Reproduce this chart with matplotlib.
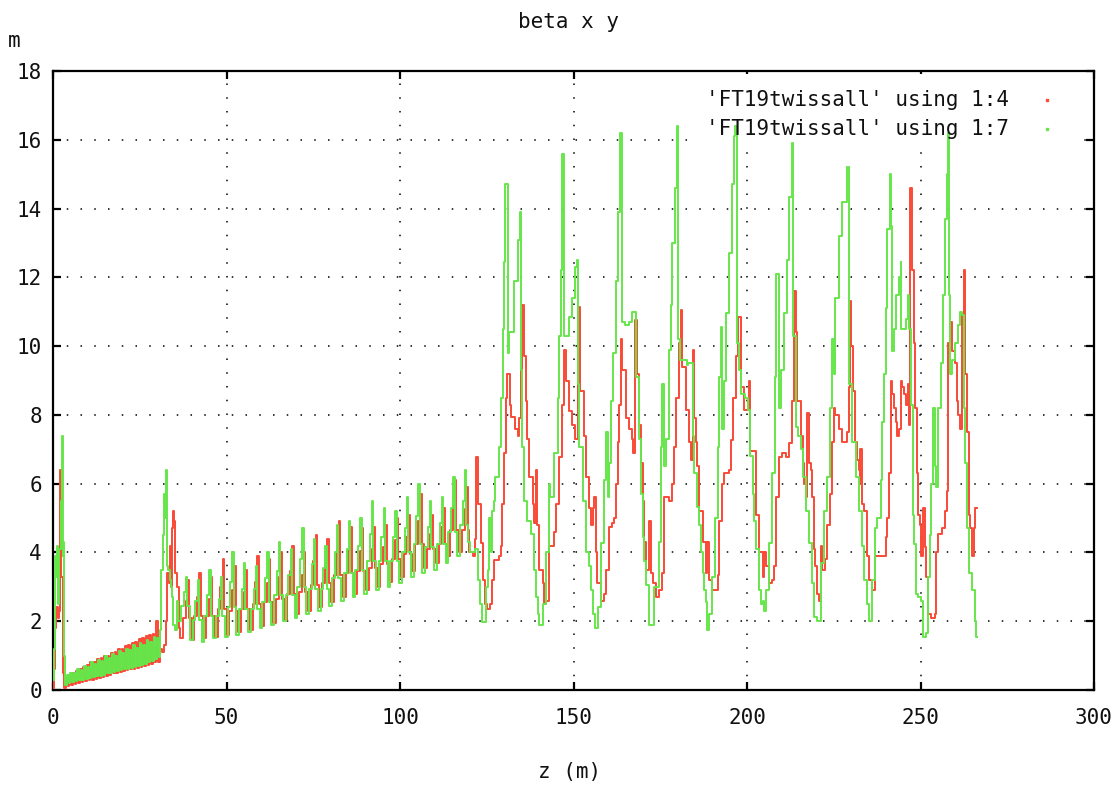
import matplotlib
matplotlib.use("Agg")
import matplotlib.pyplot as plt
from matplotlib.patches import Rectangle

# ---------------- data (z [m], beta [m]) ----------------
red_start = [(0.0, 0.05), (0.4, 0.6), (0.7, 1.8), (1.0, 2.4), (1.4, 2.1), (1.7, 2.3),
             (1.9, 4.0), (2.05, 6.4), (2.35, 3.3), (2.8, 2.0), (3.0, 0.5), (3.3, 0.05)]
green_start = [(0.0, 0.3), (0.3, 1.2), (0.6, 3.9), (0.9, 3.3), (1.2, 4.2), (1.5, 2.5),
               (1.8, 4.1), (2.3, 5.5), (2.55, 7.4), (2.8, 3.9), (3.0, 4.3), (3.2, 1.0)]

green_low = [(3.5, 0.15), (4.0, 0.45), (4.5, 0.2), (5.0, 0.5), (5.5, 0.22), (6.0, 0.5),
             (6.5, 0.25), (7.0, 0.6), (7.5, 0.28), (8.0, 0.58), (8.5, 0.3), (9.0, 0.7),
             (9.5, 0.33), (10.0, 0.68), (10.5, 0.36), (11.0, 0.8), (11.5, 0.38), (12.0, 0.76),
             (12.5, 0.4), (13.0, 0.88), (13.5, 0.42), (14.0, 0.85), (14.5, 0.45), (15.0, 0.98),
             (15.5, 0.48), (16.0, 0.92), (16.5, 0.5), (17.0, 1.05), (17.5, 0.52), (18.0, 1.0),
             (18.5, 0.55), (19.0, 1.12), (19.5, 0.57), (20.0, 1.08), (20.5, 0.6), (21.0, 1.2),
             (21.5, 0.62), (22.0, 1.15), (22.5, 0.65), (23.0, 1.3), (23.5, 0.68), (24.0, 1.22),
             (24.5, 0.7), (25.0, 1.38), (25.5, 0.72), (26.0, 1.3), (26.5, 0.75), (27.0, 1.45),
             (27.5, 0.8), (28.0, 1.4), (28.5, 0.85), (29.0, 1.55), (29.5, 0.9), (30.0, 1.5),
             (30.5, 0.95)]
red_low = [(3.75, 0.35), (4.25, 0.12), (4.75, 0.42), (5.25, 0.15), (5.75, 0.5), (6.25, 0.18),
           (6.75, 0.55), (7.25, 0.2), (7.75, 0.6), (8.25, 0.22), (8.75, 0.68), (9.25, 0.25),
           (9.75, 0.72), (10.25, 0.28), (10.75, 0.8), (11.25, 0.3), (11.75, 0.82), (12.25, 0.33),
           (12.75, 0.9), (13.25, 0.36), (13.75, 0.92), (14.25, 0.38), (14.75, 1.0), (15.25, 0.42),
           (15.75, 1.0), (16.25, 0.45), (16.75, 1.08), (17.25, 0.48), (17.75, 1.1), (18.25, 0.5),
           (18.75, 1.18), (19.25, 0.52), (19.75, 1.2), (20.25, 0.55), (20.75, 1.28), (21.25, 0.58),
           (21.75, 1.3), (22.25, 0.6), (22.75, 1.38), (23.25, 0.62), (23.75, 1.4), (24.25, 0.65),
           (24.75, 1.48), (25.25, 0.68), (25.75, 1.5), (26.25, 0.7), (26.75, 1.58), (27.25, 0.72),
           (27.75, 1.6), (28.25, 0.75), (28.75, 1.62), (29.25, 0.8), (29.75, 2.0), (30.25, 0.8),
           (30.75, 1.2)]

green_jump = [(30.8, 1.75), (31.2, 3.5), (31.6, 4.5), (31.9, 5.7), (32.2, 5.0), (32.5, 6.4),
              (32.8, 3.6), (33.2, 3.5), (33.6, 3.2), (34.0, 3.0), (34.3, 2.7), (34.6, 1.9),
              (35.2, 1.75), (35.6, 2.6)]
red_jump = [(31.3, 1.1), (32.0, 1.3), (32.5, 2.0), (32.9, 3.4), (33.3, 3.1), (33.7, 4.2),
            (34.0, 3.0), (34.3, 4.7), (34.5, 5.2), (34.9, 4.9), (35.3, 3.4), (35.8, 3.0),
            (36.2, 1.8)]

green_fodo = [
    (36.1, 2.0), (36.9, 2.45), (37.7, 2.85), (38.3, 3.3), (38.7, 2.45),
    (39.45, 1.45), (40.25, 2.05), (41.05, 2.6), (41.65, 3.2), (42.05, 2.05),
    (42.8, 1.4), (43.6, 2.15), (44.4, 2.75), (45.0, 3.5), (45.4, 2.15),
    (46.15, 1.5), (46.95, 2.15), (47.75, 2.65), (48.35, 3.3), (48.75, 2.15),
    (49.5, 1.55), (50.3, 2.4), (51.1, 3.15), (51.7, 4.0), (52.1, 2.4),
    (52.85, 1.6), (53.65, 2.35), (54.45, 2.95), (55.05, 3.7), (55.45, 2.35),
    (56.2, 1.7), (57.0, 2.35), (57.8, 2.95), (58.4, 3.6), (58.8, 2.35),
    (59.55, 1.8), (60.35, 2.55), (61.15, 3.25), (61.75, 4.0), (62.15, 2.55),
    (62.9, 1.9), (63.7, 2.75), (64.5, 3.45), (65.1, 4.3), (65.5, 2.75),
    (66.25, 2.0), (67.05, 2.75), (67.85, 3.35), (68.45, 4.1), (68.85, 2.75),
    (69.6, 2.1), (70.4, 3.0), (71.2, 3.8), (71.8, 4.7), (72.2, 3.0),
    (72.95, 2.2), (73.75, 2.95), (74.55, 3.65), (75.15, 4.4), (75.55, 2.95),
    (76.3, 2.3), (77.1, 2.95), (77.9, 3.55), (78.5, 4.2), (78.9, 2.95),
    (79.65, 2.45), (80.45, 3.25), (81.25, 4.0), (81.85, 4.8), (82.25, 3.25),
    (83.0, 2.6), (83.8, 3.4), (84.6, 4.1), (85.2, 4.9), (85.6, 3.4),
    (86.35, 2.7), (87.15, 3.5), (87.95, 4.2), (88.55, 5.0), (88.95, 3.5),
    (89.7, 2.8), (90.5, 3.75), (91.3, 4.55), (91.9, 5.5), (92.3, 3.75),
    (93.05, 2.9), (93.85, 3.75), (94.65, 4.45), (95.25, 5.3), (95.65, 3.75),
    (96.4, 3.0), (97.2, 3.75), (98.0, 4.45), (98.6, 5.2), (99.0, 3.75),
    (99.75, 3.1), (100.55, 4.0), (101.35, 4.7), (101.95, 5.6), (102.35, 4.0),
    (103.1, 3.3), (103.9, 4.25), (104.7, 5.05), (105.3, 6.0), (105.7, 4.25),
    (106.45, 3.4), (107.25, 4.15), (108.05, 4.75), (108.65, 5.5), (109.05, 4.15),
    (109.8, 3.5), (110.6, 4.25), (111.4, 4.85), (112.0, 5.6), (112.4, 4.25),
    (113.15, 3.7), (113.95, 4.6), (114.75, 5.3), (115.35, 6.2), (115.75, 4.6),
    (116.5, 3.9), (117.3, 4.8), (118.1, 5.5), (118.7, 6.4), (119.1, 4.8),
    (119.5, 4.3), (120.3, 4.0), (121.5, 4.1), (122.4, 3.2), (123.0, 2.5)]
red_fodo = [
    (36.6, 1.5), (37.4, 2.1), (38.2, 2.6), (38.8, 3.2), (39.2, 2.1),
    (39.95, 1.45), (40.75, 2.15), (41.55, 2.7), (42.15, 3.4), (42.55, 2.15),
    (43.3, 1.5), (44.1, 2.15), (44.9, 2.65), (45.5, 3.3), (45.9, 2.15),
    (46.65, 1.55), (47.45, 2.35), (48.25, 3.0), (48.85, 3.8), (49.25, 2.35),
    (50.0, 1.6), (50.8, 2.3), (51.6, 2.9), (52.2, 3.6), (52.6, 2.3),
    (53.35, 1.7), (54.15, 2.35), (54.95, 2.85), (55.55, 3.5), (55.95, 2.35),
    (56.7, 1.75), (57.5, 2.5), (58.3, 3.15), (58.9, 3.9), (59.3, 2.5),
    (60.05, 1.85), (60.85, 2.55), (61.65, 3.1), (62.25, 3.8), (62.65, 2.55),
    (63.4, 1.95), (64.2, 2.65), (65.0, 3.3), (65.6, 4.0), (66.0, 2.65),
    (66.75, 2.05), (67.55, 2.8), (68.35, 3.45), (68.95, 4.2), (69.35, 2.8),
    (70.1, 2.2), (70.9, 2.85), (71.7, 3.35), (72.3, 4.0), (72.7, 2.85),
    (73.45, 2.3), (74.25, 3.05), (75.05, 3.75), (75.65, 4.5), (76.05, 3.05),
    (76.8, 2.4), (77.6, 3.1), (78.4, 3.7), (79.0, 4.4), (79.4, 3.1),
    (80.15, 2.55), (80.95, 3.35), (81.75, 4.1), (82.35, 4.9), (82.75, 3.35),
    (83.5, 2.7), (84.3, 3.4), (85.1, 4.05), (85.7, 4.75), (86.1, 3.4),
    (86.85, 2.8), (87.65, 3.45), (88.45, 4.05), (89.05, 4.7), (89.45, 3.45),
    (90.2, 2.9), (91.0, 3.55), (91.8, 4.1), (92.4, 4.75), (92.8, 3.55),
    (93.55, 3.0), (94.35, 3.65), (95.15, 4.15), (95.75, 4.8), (96.15, 3.65),
    (96.9, 3.15), (97.7, 3.8), (98.5, 4.35), (99.1, 5.0), (99.5, 3.8),
    (100.25, 3.3), (101.05, 3.95), (101.85, 4.45), (102.45, 5.1), (102.85, 3.95),
    (103.6, 3.45), (104.4, 4.25), (105.2, 4.9), (105.8, 5.7), (106.2, 4.25),
    (106.95, 3.55), (107.75, 4.1), (108.55, 4.55), (109.15, 5.1), (109.55, 4.1),
    (110.3, 3.7), (111.1, 4.25), (111.9, 4.75), (112.5, 5.3), (112.9, 4.25),
    (113.65, 3.9), (114.45, 4.65), (115.25, 5.35), (115.85, 6.1), (116.25, 4.65),
    (117.0, 4.0), (117.8, 4.65), (118.6, 5.25), (119.2, 5.9), (119.6, 4.65),
    (120.0, 4.0), (121.0, 3.9), (121.5, 4.4)]

green_big = [
    (123.7, 1.97), (124.8, 3.0), (125.3, 3.5), (125.7, 5.0), (126.2, 4.0), (126.6, 5.2),
    (127.0, 5.5), (127.5, 6.2), (128.6, 7.07), (129.1, 8.5), (129.6, 10.5), (130.0, 12.45),
    (130.3, 14.7), (131.0, 9.8), (131.5, 10.4), (132.5, 10.4), (132.9, 11.9), (133.9, 13.1),
    (134.6, 13.9), (134.9, 9.3), (135.3, 7.07), (135.8, 5.5), (136.7, 4.9), (137.7, 4.55),
    (138.7, 3.5), (139.2, 2.7), (139.7, 2.2), (140.1, 1.89), (141.1, 2.5), (142.0, 4.0),
    (142.8, 6.0), (143.1, 5.6), (144.4, 6.9), (145.4, 8.5), (145.9, 10.3), (146.4, 12.2),
    (146.6, 14.25), (146.8, 15.6), (147.3, 10.3), (148.8, 10.85), (149.6, 11.4), (150.5, 12.3),
    (150.9, 12.5), (151.2, 8.9), (151.6, 7.07), (152.6, 5.5), (153.6, 4.0), (154.5, 3.6),
    (155.0, 2.9), (155.5, 2.2), (156.2, 1.8), (157.0, 2.4), (157.9, 4.27), (158.8, 6.1),
    (159.3, 7.5), (159.8, 5.6), (160.3, 6.6), (160.8, 8.4), (161.4, 9.8), (162.2, 11.9),
    (162.7, 13.9), (163.5, 16.2), (163.9, 10.7), (164.8, 10.6), (166.0, 10.7), (167.0, 11.0),
    (168.0, 9.1), (168.9, 7.3), (169.4, 5.7), (169.9, 4.46), (170.4, 3.75), (171.0, 3.06),
    (171.8, 1.89), (173.2, 3.0), (174.7, 4.3), (175.2, 7.07), (175.6, 8.9), (176.1, 6.5),
    (176.6, 7.3), (177.6, 9.9), (178.0, 11.2), (178.5, 13.0), (179.3, 14.6), (179.7, 16.4),
    (180.2, 10.2), (180.8, 9.6), (182.7, 9.45), (183.1, 9.5), (184.3, 7.4), (184.8, 6.3),
    (185.7, 5.33), (186.2, 4.8), (186.7, 4.0), (187.2, 3.4), (187.6, 2.9), (188.1, 2.55),
    (188.6, 1.74), (189.1, 2.2), (190.0, 3.3), (190.8, 5.0), (191.5, 7.07), (191.9, 9.1),
    (192.4, 10.56), (192.9, 7.6), (193.4, 9.0), (193.9, 10.95), (194.8, 12.7), (195.8, 14.7),
    (196.3, 16.1), (196.6, 16.4), (197.0, 10.1), (197.8, 9.3), (198.3, 8.6), (199.3, 8.5),
    (200.3, 8.14), (201.0, 6.8), (201.6, 5.7), (202.1, 4.9), (202.5, 4.1), (203.5, 2.9),
    (204.0, 2.5), (204.5, 2.6), (205.0, 2.3), (205.5, 2.9), (206.4, 4.27), (207.3, 6.3),
    (208.1, 9.1), (208.5, 12.1), (209.3, 8.2), (209.7, 9.3), (210.7, 10.95), (211.6, 12.5),
    (212.1, 14.35), (212.9, 15.9), (213.3, 10.3), (214.1, 7.66), (214.8, 7.4), (215.5, 7.0),
    (216.0, 6.2), (216.9, 5.2), (217.9, 4.27), (218.8, 3.1), (219.3, 2.13), (220.2, 2.0),
    (221.2, 3.7), (222.1, 5.2), (223.1, 6.2), (224.0, 8.2), (224.5, 10.2), (225.0, 9.2),
    (225.5, 11.4), (226.4, 13.2), (227.4, 14.2), (228.7, 15.2), (229.3, 8.9), (230.3, 7.2),
    (231.3, 6.2), (232.2, 5.2), (233.0, 4.2), (233.7, 3.2), (234.6, 2.5), (235.1, 2.0),
    (236.1, 3.2), (237.0, 4.7), (237.5, 5.0), (238.5, 6.1), (239.0, 7.8), (239.5, 9.2),
    (240.0, 11.1), (240.4, 13.4), (241.2, 15.0), (241.6, 13.5), (241.9, 9.85), (242.4, 10.5),
    (242.9, 11.5), (243.9, 12.0), (244.3, 12.45), (244.5, 10.5), (245.8, 10.8), (246.3, 11.5),
    (246.8, 10.5), (247.3, 8.3), (247.8, 5.1), (248.2, 4.25), (248.7, 2.8), (249.2, 2.7),
    (250.2, 2.6), (250.7, 1.55), (251.7, 1.66), (252.1, 3.3), (252.6, 4.5), (253.1, 6.0),
    (253.6, 8.2), (254.1, 6.5), (254.6, 5.9), (255.1, 8.2), (256.0, 9.5), (256.5, 11.5),
    (257.0, 13.7), (257.5, 15.0), (257.8, 16.2), (258.2, 11.5), (258.5, 9.2), (259.0, 9.6),
    (260.0, 10.1), (260.9, 10.6), (261.4, 11.0), (261.9, 10.9), (262.4, 8.2), (262.9, 6.6),
    (263.4, 4.7), (263.9, 3.4), (264.8, 2.9), (265.8, 2.0), (266.0, 1.55), (266.3, 1.55)]

red_big = [
    (121.9, 6.78), (122.6, 5.4), (123.3, 4.27), (124.0, 3.2), (124.6, 2.5), (125.0, 2.35),
    (126.0, 2.5), (126.4, 3.2), (127.2, 3.78), (128.5, 3.9), (129.0, 4.2), (129.5, 5.4),
    (130.0, 6.9), (130.5, 8.5), (130.8, 9.2), (131.6, 8.3), (132.0, 7.95), (133.0, 7.6),
    (133.9, 7.4), (134.3, 7.9), (134.8, 9.3), (135.1, 11.2), (135.8, 9.7), (136.3, 8.4),
    (136.7, 7.3), (137.2, 6.2), (138.2, 5.4), (138.7, 4.85), (139.2, 6.4), (139.5, 4.8),
    (140.1, 3.5), (141.1, 3.1), (141.6, 2.5), (142.0, 2.6), (143.0, 4.2), (144.5, 4.6),
    (145.0, 5.4), (145.9, 6.78), (146.7, 8.3), (147.3, 9.9), (147.8, 9.0), (148.8, 8.1),
    (149.6, 7.7), (150.5, 7.3), (151.3, 11.15), (151.8, 8.7), (153.0, 7.4), (153.6, 6.2),
    (154.5, 5.3), (155.0, 4.8), (155.5, 5.3), (156.0, 5.6), (156.4, 4.0), (156.9, 3.1),
    (157.9, 2.6), (158.8, 2.8), (159.3, 3.5), (160.3, 4.75), (161.2, 4.85), (161.7, 5.0),
    (162.2, 6.0), (162.7, 7.2), (163.2, 8.3), (163.6, 10.2), (164.1, 9.3), (165.0, 7.9),
    (166.0, 7.6), (166.9, 7.3), (167.2, 6.9), (167.6, 10.76), (168.2, 9.2), (168.9, 7.7),
    (169.4, 6.6), (169.9, 5.5), (170.4, 4.3), (170.9, 3.5), (171.9, 4.9), (172.2, 3.4),
    (172.8, 3.1), (173.8, 2.7), (174.7, 2.9), (175.6, 3.4), (176.1, 5.6), (177.6, 5.5),
    (178.5, 6.0), (179.0, 7.07), (179.5, 8.5), (180.4, 10.1), (180.9, 11.05), (181.4, 9.4),
    (182.4, 8.14), (183.3, 7.2), (183.8, 6.7), (184.3, 9.9), (184.8, 7.9), (185.2, 7.2),
    (185.7, 6.5), (186.2, 5.2), (187.2, 4.3), (188.1, 3.4), (188.6, 4.3), (189.1, 3.2),
    (190.0, 2.9), (191.5, 3.35), (191.9, 4.9), (192.9, 6.0), (193.4, 6.3), (194.8, 6.4),
    (195.3, 7.27), (196.0, 8.5), (196.8, 9.7), (197.4, 10.85), (198.2, 8.8), (199.1, 8.14),
    (200.6, 9.0), (201.0, 6.96), (202.5, 5.1), (203.5, 4.0), (204.5, 3.3), (205.0, 4.0),
    (205.4, 3.6), (206.4, 3.1), (207.3, 3.2), (207.8, 3.6), (208.3, 5.6), (209.3, 6.78),
    (210.2, 6.9), (211.2, 6.78), (212.1, 7.18), (213.0, 8.4), (213.5, 11.6), (214.0, 10.4),
    (214.5, 8.4), (215.5, 7.4), (216.0, 6.6), (216.4, 6.0), (216.9, 5.6), (217.4, 8.05),
    (217.9, 6.6), (218.3, 6.4), (218.8, 5.6), (219.2, 4.1), (219.7, 3.6), (220.2, 2.8),
    (220.7, 2.6), (221.2, 4.2), (221.6, 3.5), (222.6, 3.8), (223.1, 4.8), (224.0, 5.7),
    (224.5, 7.2), (225.0, 8.2), (225.5, 8.0), (226.4, 7.6), (227.4, 7.2), (228.8, 7.5),
    (229.3, 8.8), (229.6, 11.3), (230.0, 10.0), (230.5, 8.7), (231.1, 7.2), (231.7, 6.7),
    (232.2, 6.4), (232.5, 6.0), (232.7, 7.0), (233.2, 5.4), (233.7, 5.2), (234.6, 3.9),
    (235.1, 3.2), (236.1, 2.9), (237.0, 3.9), (238.0, 3.9), (239.5, 3.9), (240.0, 4.45),
    (240.4, 5.0), (240.9, 6.3), (241.4, 9.0), (241.9, 8.6), (242.4, 8.2), (242.9, 7.8),
    (243.3, 7.4), (243.8, 7.6), (244.3, 9.0), (244.8, 8.8), (245.3, 8.6), (245.8, 8.3),
    (246.3, 8.9), (246.8, 7.7), (247.1, 14.6), (247.6, 12.2), (248.0, 10.1), (248.4, 8.2),
    (249.0, 6.3), (249.4, 5.1), (249.9, 4.8), (250.2, 3.9), (250.7, 5.3), (251.2, 4.15),
    (251.7, 3.3), (252.1, 2.2), (253.1, 2.1), (254.1, 2.2), (254.6, 4.0), (255.1, 4.55),
    (256.1, 4.7), (257.0, 5.2), (257.5, 5.8), (258.0, 10.1), (258.5, 10.7), (259.0, 9.85),
    (260.0, 9.5), (260.4, 8.4), (260.9, 8.0), (261.4, 7.6), (261.9, 10.9), (262.4, 12.2),
    (262.7, 9.2), (263.4, 7.5), (263.9, 5.1), (264.4, 4.7), (264.8, 3.9), (265.3, 4.7),
    (265.8, 5.3), (266.3, 5.3)]

labels = ["'FT19twissall' using 1:4", "'FT19twissall' using 1:7"]
x_ticks = [0, 50, 100, 150, 200, 250, 300]
y_ticks = [0, 2, 4, 6, 8, 10, 12, 14, 16, 18]
title = "beta x y"
xlabel = "z (m)"
ylabel = "m"

# ---------------- assemble series ----------------
red_pts = red_start + red_low + red_jump + red_fodo + red_big
green_pts = green_start + green_low + green_jump + green_fodo + green_big
red_z = [p[0] for p in red_pts]
red_b = [p[1] for p in red_pts]
green_z = [p[0] for p in green_pts]
green_b = [p[1] for p in green_pts]

RED = "#f84a36"
GREEN = "#66e64a"
FONT = "DejaVu Sans Mono"

plt.rcParams['font.family'] = [FONT, 'DejaVu Sans']

fig = plt.figure(figsize=(11.2, 7.87), dpi=100)
ax = fig.add_axes([53 / 1120, 1 - 690 / 787, (1094 - 53) / 1120, (690 - 71) / 787])

ax.set_xlim(0, 300)
ax.set_ylim(0, 18)
ax.set_xticks(x_ticks)
ax.set_yticks(y_ticks)
ax.set_xticklabels([str(t) for t in x_ticks])
ax.set_yticklabels([str(t) for t in y_ticks])

ax.grid(True, color="black", linewidth=1.1, linestyle=(0, (1, 8)), zorder=1)
ax.set_axisbelow(True)

ax.plot(red_z, red_b, drawstyle="steps-post", color=RED, lw=1.4, zorder=4)
ax.plot(green_z, green_b, drawstyle="steps-post", color=GREEN, lw=1.4, zorder=5)

# legend (gnuplot style key, right aligned text, point samples on the right)
ax.add_patch(Rectangle((0.62, 0.88), 0.36, 0.115, transform=ax.transAxes,
                       facecolor="white", edgecolor="none", zorder=3))
key_y = [0.953, 0.906]
for lab, col, ky in zip(labels, [RED, GREEN], key_y):
    ax.text(0.918, ky, lab, transform=ax.transAxes, ha="right", va="center",
            fontsize=15, family=FONT, color="#111111", zorder=6)
    ax.plot([0.9545], [ky], marker="s", ms=1.6, color=col, transform=ax.transAxes,
            zorder=6, clip_on=False)

for s in ax.spines.values():
    s.set_linewidth(1.6)
    s.set_color("black")

ax.tick_params(axis="both", which="major", direction="in", length=6, width=1.6,
               top=True, right=True, labelsize=15, colors="black")
ax.tick_params(axis="x", pad=13)
ax.tick_params(axis="y", pad=8)
for lab in ax.get_xticklabels() + ax.get_yticklabels():
    lab.set_family(FONT)
    lab.set_color("#111111")

fig.text(568 / 1120, 1 - 22 / 787, title, ha="center", va="center", fontsize=15,
         family=FONT, color="#111111")
fig.text(570 / 1120, 1 - 772 / 787, xlabel, ha="center", va="center", fontsize=15,
         family=FONT, color="#111111")
fig.text(14 / 1120, 1 - 41 / 787, ylabel, ha="center", va="center", fontsize=15,
         family=FONT, color="#111111")

fig.savefig("out.png", dpi=100, facecolor="white")
